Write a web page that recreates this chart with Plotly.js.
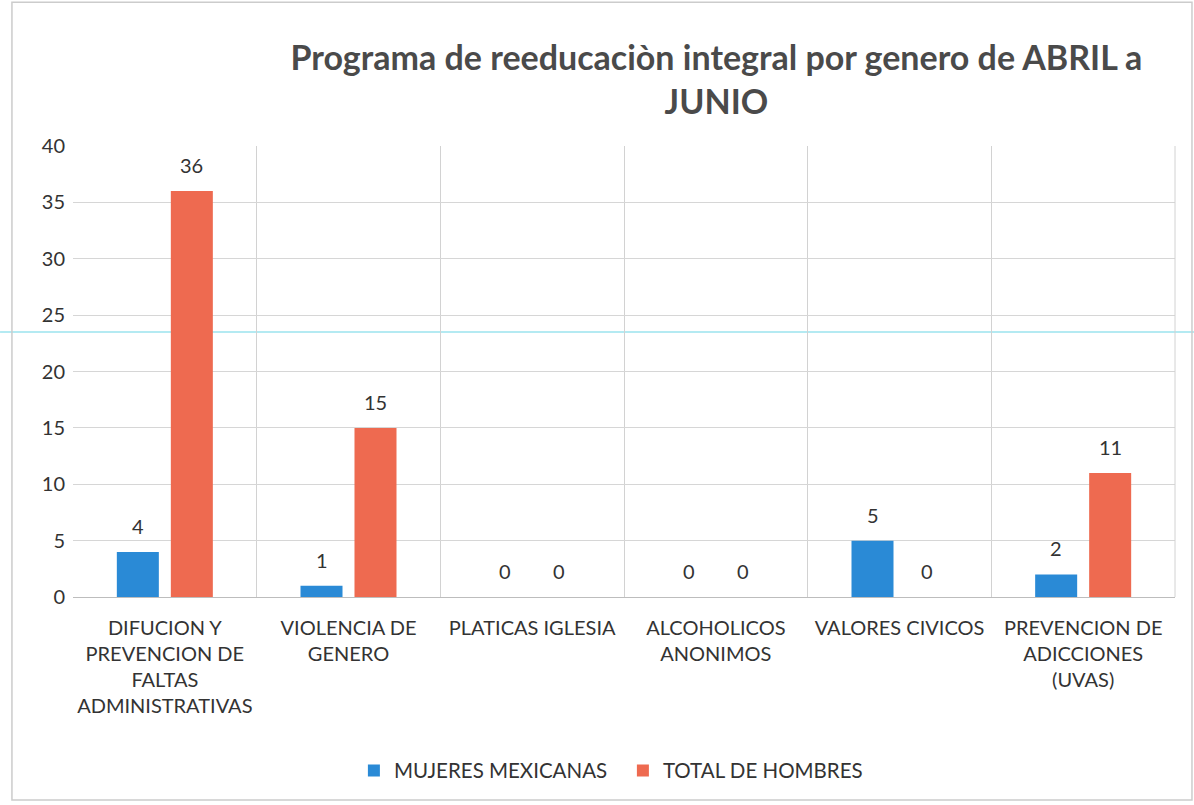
<!DOCTYPE html>
<html>
<head>
<meta charset="utf-8">
<script src="https://cdn.plot.ly/plotly-3.0.1.min.js"></script>
<style>
html,body{margin:0;padding:0;background:#fff;}
#chart{width:1194px;height:805px;}
</style>
</head>
<body>
<div id="chart"></div>
<script>
const categories = [
  "DIFUCION Y<br>PREVENCION DE<br>FALTAS<br>ADMINISTRATIVAS",
  "VIOLENCIA DE<br>GENERO",
  "PLATICAS IGLESIA",
  "ALCOHOLICOS<br>ANONIMOS",
  "VALORES CIVICOS",
  "PREVENCION DE<br>ADICCIONES<br>(UVAS)"
];
const mujeres = [4, 1, 0, 0, 5, 2];
const hombres = [36, 15, 0, 0, 0, 11];
const seriesNames = ["MUJERES MEXICANAS", "TOTAL DE HOMBRES"];
const yTicks = [0, 5, 10, 15, 20, 25, 30, 35, 40];

const font = "Lato, 'Open Sans', sans-serif";
const textFont = {family: font, size: 20, color: "#333"};

const traces = [
  {type: "bar", name: seriesNames[0], x: categories, y: mujeres,
   marker: {color: "#2a8ad6"}, cliponaxis: false},
  {type: "bar", name: seriesNames[1], x: categories, y: hombres,
   marker: {color: "#ee6a50"}, cliponaxis: false}
];

const annotations = [];
[mujeres, hombres].forEach((vals, s) => {
  vals.forEach((v, i) => {
    annotations.push({x: categories[i], y: v, xref: "x", yref: "y", text: String(v),
      showarrow: false, yanchor: "bottom", yshift: 12, xshift: s === 0 ? -27 : 27,
      font: textFont});
  });
});

const layout = {
  width: 1194, height: 805,
  margin: {l: 73, r: 19, t: 146, b: 208},
  paper_bgcolor: "#fff", plot_bgcolor: "#fff",
  font: {family: font, color: "#333"},
  title: {text: "<b>Programa de reeducaciòn integral por genero de ABRIL a<br>JUNIO</b>",
          x: 0.6, xref: "container", xanchor: "center", y: 0.913, yref: "container", yanchor: "middle",
          font: {family: font, size: 34, color: "#4a4a4a"}},
  barmode: "group", bargap: 0.412, bargroupgap: 0.222,
  xaxis: {type: "category", tickson: "boundaries", showgrid: true, gridcolor: "#d2d2d2", gridwidth: 1,
          ticks: "", showline: false, tickfont: {family: font, size: 20, color: "#333"},
          ticklabelstandoff: 17, automargin: false},
  yaxis: {range: [0, 40], tickvals: yTicks, showgrid: true, gridcolor: "#d6d6d6", zeroline: true,
          zerolinecolor: "#bdbdbd", ticks: "", tickfont: {family: font, size: 20, color: "#333"},
          ticklabelstandoff: 7, automargin: false, showline: false},
  legend: {orientation: "h", x: 0.499, xanchor: "center", y: -0.385, yanchor: "middle",
           font: {family: font, size: 20.5, color: "#333"}, traceorder: "normal", itemwidth: 30,
           entrywidth: 224, entrywidthmode: "pixels"},
  annotations: annotations,
  shapes: [
    {type: "rect", xref: "paper", yref: "paper", x0: -0.0554, x1: 1.0154, y0: -0.45, y1: 1.319,
     line: {color: "#cccccc", width: 1.5}},
    {type: "line", xref: "paper", yref: "paper", x0: 1.0, x1: 1.0, y0: 0, y1: 1,
     line: {color: "#d2d2d2", width: 1}},
    {type: "line", xref: "paper", yref: "paper", x0: -0.0662, x1: 1.0172, y0: 0.5876, y1: 0.5876,
     layer: "below", line: {color: "#9be3ee", width: 1.5}}
  ],
  showlegend: true
};

Plotly.newPlot("chart", traces, layout, {displayModeBar: false, staticPlot: true});
</script>
</body>
</html>
